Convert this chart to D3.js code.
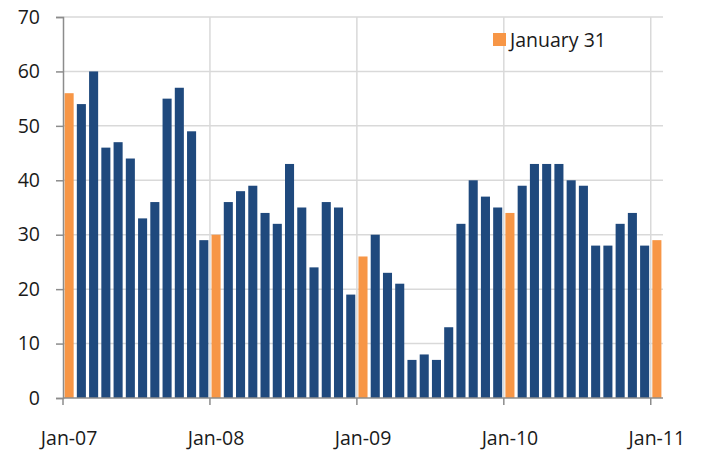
<!DOCTYPE html>
<html><head><meta charset="utf-8">
<script src="https://cdn.jsdelivr.net/npm/d3@7"></script>
<style>body{margin:0;background:#fff}svg{display:block}</style>
</head><body>
<svg id="c" width="701" height="453"></svg>
<script>
const values = [
  56, 54, 60, 46, 47, 44, 33, 36, 55, 57, 49, 29,
  30, 36, 38, 39, 34, 32, 43, 35, 24, 36, 35, 19,
  26, 30, 23, 21, 7, 8, 7, 13, 32, 40, 37, 35,
  34, 39, 43, 43, 43, 40, 39, 28, 28, 32, 34, 28,
  29
];
const yTicks = [0, 10, 20, 30, 40, 50, 60, 70];
const xTickLabels = ["Jan-07", "Jan-08", "Jan-09", "Jan-10", "Jan-11"];
const legendLabel = "January 31";

const svg = d3.select("#c");
const W = 701, H = 453;
const m = {l: 63, r: W - 663, t: 17, b: H - 398};
const x = d3.scaleBand().domain(d3.range(values.length)).range([m.l, W - m.r]).paddingInner(0.26).paddingOuter(0.13);
const y = d3.scaleLinear().domain([0, 70]).range([H - m.b, m.t]);
const step = x.step();
const slot = i => m.l + i * ((W - m.r - m.l) / values.length);

const font = "'Century Gothic','URW Gothic','Open Sans','DejaVu Sans',sans-serif";
const fs = 19.5;
const grid = "#d9d9d9", axisC = "#8c8c8c";

// horizontal gridlines
svg.append("g").selectAll("line").data(yTicks.slice(1)).join("line")
  .attr("x1", m.l).attr("x2", W - m.r).attr("y1", d => y(d)).attr("y2", d => y(d))
  .attr("stroke", grid).attr("stroke-width", 1.5);
// vertical gridlines at Januaries
const janIdx = d3.range(12, values.length, 12);
svg.append("g").selectAll("line").data(janIdx).join("line")
  .attr("x1", d => slot(d)).attr("x2", d => slot(d)).attr("y1", m.t).attr("y2", y(0))
  .attr("stroke", grid).attr("stroke-width", 1.5);

// bars
svg.append("g").selectAll("rect").data(values).join("rect")
  .attr("x", (d, i) => x(i)).attr("width", x.bandwidth())
  .attr("y", d => y(d)).attr("height", d => y(0) - y(d))
  .attr("fill", (d, i) => i % 12 === 0 ? "#f79646" : "#1f497d");

// y axis
const ya = svg.append("g").attr("transform", `translate(${m.l},0)`)
  .call(d3.axisLeft(y).tickValues(yTicks).tickSize(7).tickPadding(10));
ya.select(".domain").attr("stroke", axisC).attr("stroke-width", 1.5);
ya.selectAll(".tick line").attr("stroke", axisC).attr("stroke-width", 1.5);
ya.selectAll("text").attr("font-family", font).attr("font-size", fs).attr("fill", "#1a1a1a").attr("dx", -6);

// x axis
const xa = svg.append("g").attr("transform", `translate(0,${y(0)})`);
xa.append("line").attr("x1", m.l).attr("x2", W - m.r).attr("stroke", axisC).attr("stroke-width", 1.5);
const tickIdx = d3.range(0, values.length, 12);
xa.selectAll(".t").data(tickIdx).join("line").attr("class", "t")
  .attr("x1", d => slot(d)).attr("x2", d => slot(d)).attr("y1", 0).attr("y2", 7)
  .attr("stroke", axisC).attr("stroke-width", 1.5);
xa.selectAll("text").data(tickIdx).join("text")
  .attr("x", d => slot(d) + step / 2).attr("y", 47)
  .attr("text-anchor", "middle").attr("font-family", font).attr("font-size", fs).attr("fill", "#1a1a1a")
  .text((d, i) => xTickLabels[i]);

// legend
const lg = svg.append("g").attr("transform", "translate(493,33)");
lg.append("rect").attr("width", 13).attr("height", 13).attr("fill", "#f79646");
lg.append("text").attr("x", 17).attr("y", 13.5).attr("font-family", font).attr("font-size", fs).attr("fill", "#1a1a1a").text(legendLabel);
</script>
</body></html>
